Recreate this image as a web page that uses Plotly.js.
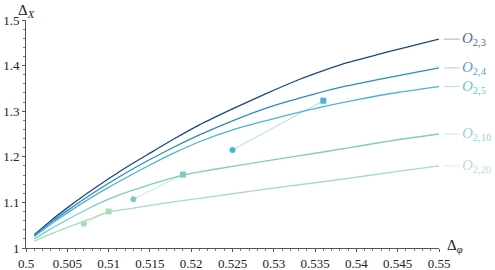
<!DOCTYPE html>
<html>
<head>
<meta charset="utf-8">
<script src="https://cdn.plot.ly/plotly-3.0.1.min.js"></script>
<style>html,body{margin:0;padding:0;background:#fff;}#chart{width:495px;height:270px;}</style>
</head>
<body>
<div id="chart"></div>
<script>
// ---- data ----
var seriesNames = ["O23", "O24", "O25", "O210", "O220"];
var seriesLabels = ["<i>O</i><sub>2,3</sub>", "<i>O</i><sub>2,4</sub>", "<i>O</i><sub>2,5</sub>", "<i>O</i><sub>2,10</sub>", "<i>O</i><sub>2,20</sub>"];
var colors = ["#1a4785", "#2b8cbe", "#4eb3d3", "#7bccc4", "#a8ddb5"];

var x23 = [0.501, 0.503, 0.505, 0.5075, 0.510, 0.5125, 0.515, 0.518, 0.521, 0.525, 0.529, 0.533, 0.536, 0.539, 0.5425, 0.546, 0.55];
var y23 = [1.029, 1.060, 1.088, 1.121, 1.152, 1.181, 1.208, 1.240, 1.270, 1.305, 1.338, 1.369, 1.389, 1.407, 1.424, 1.440, 1.458];

var x24 = [0.501, 0.503, 0.505, 0.5075, 0.510, 0.5125, 0.515, 0.518, 0.521, 0.525, 0.529, 0.532, 0.535, 0.538, 0.544, 0.55];
var y24 = [1.027, 1.056, 1.082, 1.113, 1.142, 1.169, 1.194, 1.222, 1.248, 1.279, 1.306, 1.323, 1.338, 1.352, 1.374, 1.395];

var x25 = [0.501, 0.503, 0.505, 0.5075, 0.510, 0.5125, 0.515, 0.518, 0.521, 0.525, 0.529, 0.532, 0.536, 0.540, 0.545, 0.55];
var y25 = [1.025, 1.052, 1.077, 1.106, 1.133, 1.158, 1.182, 1.209, 1.233, 1.259, 1.279, 1.293, 1.310, 1.325, 1.341, 1.354];

var x210 = [0.501, 0.503, 0.505, 0.5075, 0.510, 0.5125, 0.515, 0.517, 0.519, 0.521, 0.525, 0.5295, 0.533, 0.5392, 0.5441, 0.55];
var y210 = [1.020, 1.042, 1.062, 1.086, 1.107, 1.124, 1.139, 1.150, 1.160, 1.167, 1.179, 1.192, 1.202, 1.220, 1.235, 1.250];

var x220 = [0.501, 0.503, 0.505, 0.5075, 0.510, 0.5125, 0.5156, 0.521, 0.525, 0.5295, 0.5345, 0.5392, 0.5441, 0.55];
var y220 = [1.015, 1.031, 1.045, 1.062, 1.079, 1.086, 1.095, 1.109, 1.119, 1.130, 1.142, 1.153, 1.166, 1.180];

// circle -> square pairs
var mx25 = [0.525, 0.536],  my25 = [1.215, 1.323];
var mx210 = [0.513, 0.519], my210 = [1.107, 1.161];
var mx220 = [0.507, 0.510], my220 = [1.053, 1.080];

var curvesX = [x23, x24, x25, x210, x220];
var curvesY = [y23, y24, y25, y210, y220];
var endY = [y23[y23.length-1], y24[y24.length-1], y25[y25.length-1], y210[y210.length-1], y220[y220.length-1]];

var traces = [];
for (var i = 0; i < curvesX.length; i++) {
  traces.push({x: curvesX[i], y: curvesY[i], mode: "lines", type: "scatter", name: seriesNames[i],
    line: {color: colors[i], width: 1.3, shape: "spline", smoothing: 0.6}, hoverinfo: "skip"});
}
var markerSets = [[mx25, my25, colors[2]], [mx210, my210, colors[3]], [mx220, my220, colors[4]]];
markerSets.forEach(function(m){
  traces.push({x: m[0], y: m[1], mode: "lines", type: "scatter", line: {color: m[2], width: 0.8}, opacity: 0.6, hoverinfo: "skip"});
  traces.push({x: [m[0][0]], y: [m[1][0]], mode: "markers", type: "scatter", marker: {symbol: "circle", size: 6, color: m[2]}, hoverinfo: "skip"});
  traces.push({x: [m[0][1]], y: [m[1][1]], mode: "markers", type: "scatter", marker: {symbol: "square", size: 6, color: m[2]}, hoverinfo: "skip"});
});

var serif = "Liberation Serif";
var annotations = [
  {xref: "paper", yref: "paper", x: 0, y: 1, xanchor: "center", yanchor: "bottom", yshift: -2, showarrow: false,
   text: "Δ<sub><i>X</i></sub>", font: {family: serif, size: 15, color: "#222"}},
  {xref: "paper", yref: "paper", x: 1, y: 0, xanchor: "left", yanchor: "middle", xshift: 6, yshift: 2, showarrow: false,
   text: "Δ<sub><i>φ</i></sub>", font: {family: serif, size: 15, color: "#222"}}
];
var shapes = [];
for (var j = 0; j < seriesLabels.length; j++) {
  shapes.push({type: "line", xref: "paper", yref: "y", x0: 1.012, x1: 1.05, y0: endY[j], y1: endY[j],
    line: {color: colors[j], width: 1}, opacity: 0.4});
  annotations.push({xref: "paper", yref: "y", x: 1.05, y: endY[j], xanchor: "left", yanchor: "middle", showarrow: false,
    text: seriesLabels[j], font: {family: serif, size: 15, color: colors[j]}, opacity: 0.8});
}

var axisCommon = {
  showgrid: false, zeroline: false, showline: true, linecolor: "#555", linewidth: 1,
  ticks: "outside", ticklen: 3, tickwidth: 1, tickcolor: "#555",
  tickfont: {family: serif, size: 13, color: "#222"}
};
var layout = {
  width: 495, height: 270,
  font: {family: serif},
  margin: {l: 26, r: 56, t: 20, b: 22},
  paper_bgcolor: "#fff", plot_bgcolor: "#fff",
  showlegend: false,
  xaxis: Object.assign({}, axisCommon, {range: [0.5, 0.55], tick0: 0.5, dtick: 0.005,
    minor: {dtick: 0.001, ticks: "outside", ticklen: 2, tickcolor: "#777", showgrid: false}}),
  yaxis: Object.assign({}, axisCommon, {range: [1, 1.5], tick0: 1, dtick: 0.1,
    minor: {dtick: 0.02, ticks: "outside", ticklen: 2, tickcolor: "#777", showgrid: false}}),
  annotations: annotations,
  shapes: shapes
};
Plotly.newPlot("chart", traces, layout, {staticPlot: true, displayModeBar: false});
</script>
</body>
</html>
